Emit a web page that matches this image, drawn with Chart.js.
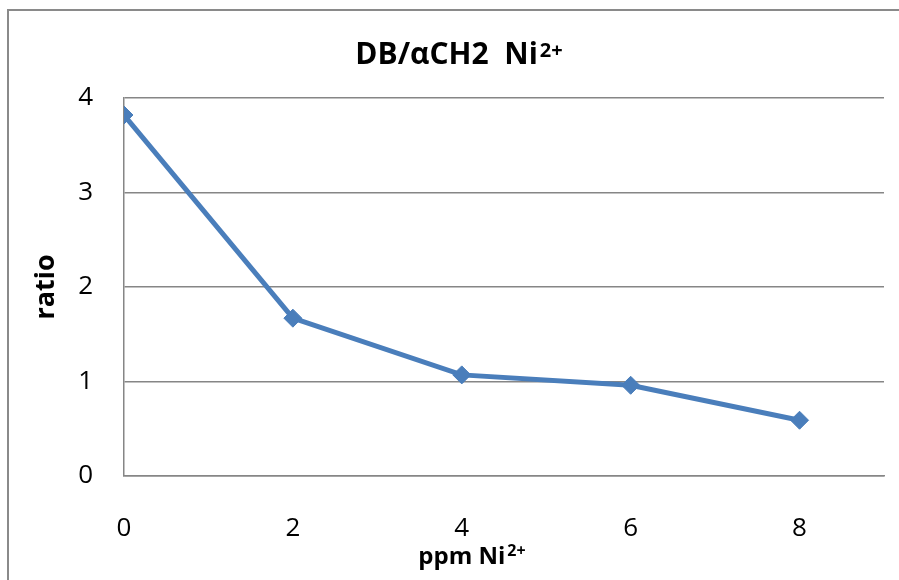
<!DOCTYPE html>
<html>
<head>
<meta charset="utf-8">
<title>DB/αCH2 Ni2+</title>
<script src="https://cdn.jsdelivr.net/npm/chart.js@4/dist/chart.umd.min.js"></script>
<style>
    html, body { margin: 0; padding: 0; background: #fff; }
    #chart { display: block; }
</style>
</head>
<body>
<canvas id="chart" width="899" height="580"></canvas>
<script>
// data
var ppm = [0, 2, 4, 6, 8];
var ratio = [3.82, 1.67, 1.07, 0.96, 0.59];
var xTicks = [0, 2, 4, 6, 8];
var yTicks = [0, 1, 2, 3, 4];

var gray = '#868686';
var blue = '#4a7ebb';
var font = '"Open Sans", "DejaVu Sans", sans-serif';

// text with a superscript tail, e.g. Ni + "2+"
function drawSup(ctx, base, sup, cx, baseline, size, supSize, raise) {
    ctx.save();
    ctx.fillStyle = '#000';
    ctx.textBaseline = 'alphabetic';
    ctx.textAlign = 'left';
    ctx.font = 'bold ' + size + 'px ' + font;
    var w1 = ctx.measureText(base).width;
    ctx.font = 'bold ' + supSize + 'px ' + font;
    var w2 = ctx.measureText(sup).width;
    var x = cx - (w1 + w2) / 2;
    ctx.font = 'bold ' + size + 'px ' + font;
    ctx.fillText(base, x, baseline);
    ctx.font = 'bold ' + supSize + 'px ' + font;
    ctx.fillText(sup, x + w1 + 2, baseline - raise);
    ctx.restore();
}

var frame = {
    id: 'frame',
    beforeDraw: function (chart) {
        var ctx = chart.ctx;
        ctx.save();
        ctx.fillStyle = '#fff';
        ctx.fillRect(0, 0, chart.width, chart.height);
        ctx.strokeStyle = '#8a8a8a';
        ctx.lineWidth = 2;
        ctx.strokeRect(8, 10, chart.width + 50, chart.height + 50);
        ctx.restore();
    },
    afterDraw: function (chart) {
        drawSup(chart.ctx, 'DB/αCH2  Ni', '2+', 458, 64, 30, 20, 7);
        drawSup(chart.ctx, 'ppm Ni', '2+', 471, 564, 24, 16, 8);
    }
};

var ctx = document.getElementById('chart');
var chart = new Chart(ctx, {
    type: 'scatter',
    data: {
        datasets: [{
            data: ppm.map(function (x, i) { return { x: x, y: ratio[i] }; }),
            showLine: true,
            borderColor: blue,
            backgroundColor: blue,
            borderWidth: 5,
            pointStyle: 'rectRot',
            pointRadius: 9,
            pointBorderWidth: 1,
            pointBorderColor: blue,
            pointBackgroundColor: blue
        }]
    },
    plugins: [frame],
    options: {
        responsive: false,
        animation: false,
        devicePixelRatio: 1,
        layout: {
            padding: { left: 30, right: 15, top: 98, bottom: 0 }
        },
        plugins: {
            legend: { display: false },
            title: { display: false },
            tooltip: { enabled: false }
        },
        scales: {
            x: {
                type: 'linear',
                min: 0,
                max: 9,
                afterBuildTicks: function (scale) {
                    scale.ticks = xTicks.map(function (v) { return { value: v }; });
                },
                afterFit: function (scale) {
                    scale.height = 104;
                },
                grid: { display: false, drawTicks: false },
                border: { display: true, color: gray, width: 1.5 },
                ticks: {
                    padding: 37,
                    maxRotation: 0,
                    color: '#000',
                    font: { family: font, size: 26 }
                }
            },
            y: {
                min: 0,
                max: 4,
                afterBuildTicks: function (scale) {
                    scale.ticks = yTicks.map(function (v) { return { value: v }; });
                },
                afterFit: function (scale) {
                    scale.width = 94;
                },
                grid: { color: gray, lineWidth: 1.5, drawTicks: false },
                border: { display: true, color: gray, width: 1.5 },
                ticks: {
                    padding: 31,
                    color: '#000',
                    font: { family: font, size: 26 }
                },
                title: {
                    display: true,
                    text: 'ratio',
                    color: '#000',
                    padding: { top: 0, bottom: 0 },
                    font: { family: font, size: 27, weight: 'bold' }
                }
            }
        }
    }
});
</script>
</body>
</html>
